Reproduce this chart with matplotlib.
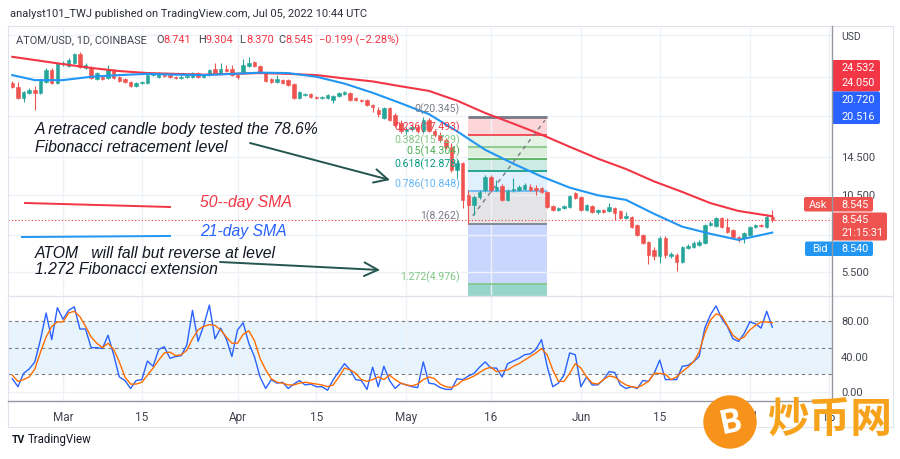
import matplotlib

matplotlib.use("Agg")
import matplotlib.pyplot as plt
import matplotlib.dates as mdates
from matplotlib.patches import Circle, FancyBboxPatch, Rectangle
from matplotlib.ticker import NullFormatter, NullLocator
import numpy as np
import pandas as pd

plt.rcParams["font.family"] = ["Roboto", "DejaVu Sans"]

# ---- data (ATOM/USD daily, 2022-02-20 .. 2022-07-05) ----
start_date = "2022-02-20"

opens = [
    27.05, 26.15, 23.84, 24.86, 25.50, 24.86, 27.28, 30.17, 27.05, 31.73,
    31.21, 32.00, 34.52, 30.69, 30.94, 27.98, 28.45, 28.21, 30.17, 28.45,
    27.98, 27.28, 26.37, 27.05, 27.05, 28.93, 28.45, 28.93, 28.93, 28.45,
    28.21, 28.45, 28.45, 29.42, 28.45, 28.93, 30.43, 29.42, 30.43, 30.43,
    28.93, 29.42, 31.21, 32.27, 31.21, 29.42, 27.98, 27.28, 27.74, 27.74,
    26.82, 23.84, 24.45, 24.66, 24.04, 23.84, 23.84, 23.44, 24.25, 24.66,
    24.86, 23.84, 23.44, 23.44, 22.47, 21.54, 20.13, 21.91, 20.65, 19.31,
    18.05, 18.35, 18.66, 18.05, 19.80, 18.05, 17.45, 16.73, 15.77, 12.99,
    13.78, 10.52, 9.67, 10.35, 10.98, 12.24, 10.98, 11.35, 10.09, 10.98,
    10.98, 11.07, 11.26, 11.17, 11.17, 10.80, 9.59, 9.27, 9.43, 9.51,
    10.71, 10.35, 9.27, 9.59, 9.12, 9.27, 9.19, 9.43, 9.19, 8.67,
    8.74, 8.17, 7.51, 7.08, 6.62, 6.30, 7.33, 6.30, 6.35, 5.98,
    6.73, 6.79, 6.90, 7.02, 8.17, 8.10, 8.67, 8.03, 7.84, 7.39,
    7.33, 7.51, 8.03, 8.17, 8.03, 8.741,
]
highs = [
    27.51, 27.28, 25.29, 25.93, 26.37, 27.98, 30.69, 30.69, 32.27, 32.55,
    33.38, 34.81, 35.10, 32.00, 31.21, 29.67, 28.69, 31.47, 30.43, 28.69,
    28.21, 27.51, 27.28, 27.51, 29.18, 29.42, 29.67, 29.42, 29.18, 28.69,
    28.93, 28.93, 29.67, 29.67, 29.18, 30.43, 32.00, 32.00, 31.47, 31.47,
    29.18, 33.10, 33.67, 32.55, 31.47, 29.67, 28.21, 28.93, 27.98, 27.98,
    27.05, 25.29, 24.86, 24.86, 24.25, 24.25, 24.66, 24.45, 25.07, 25.29,
    25.07, 24.04, 23.64, 23.64, 22.66, 22.09, 22.09, 22.09, 21.00, 19.80,
    18.66, 18.98, 19.14, 20.30, 20.13, 18.35, 17.89, 17.02, 16.31, 14.13,
    13.89, 10.98, 10.52, 10.98, 12.45, 12.45, 11.94, 11.55, 11.07, 12.14,
    11.45, 11.64, 11.55, 11.45, 11.26, 10.89, 9.67, 9.51, 9.67, 10.52,
    10.80, 10.43, 9.75, 9.67, 9.35, 9.35, 9.84, 9.51, 9.27, 9.12,
    8.82, 8.24, 7.58, 7.14, 6.79, 7.45, 7.45, 6.51, 6.45, 6.84,
    6.96, 7.14, 7.20, 8.24, 8.45, 8.74, 8.74, 8.67, 7.90, 7.45,
    7.71, 8.10, 8.24, 8.24, 8.89, 9.304,
]
lows = [
    25.93, 23.64, 23.05, 24.66, 21.54, 24.66, 27.05, 26.82, 26.82, 31.21,
    30.94, 31.73, 30.69, 30.43, 27.98, 27.74, 27.74, 27.98, 27.98, 27.28,
    27.05, 26.15, 26.15, 26.82, 26.82, 28.69, 28.21, 28.45, 28.21, 27.98,
    27.98, 28.21, 28.21, 28.21, 28.21, 28.69, 29.18, 29.18, 29.67, 28.69,
    27.98, 29.18, 30.94, 30.94, 29.18, 27.28, 27.05, 27.05, 26.82, 26.37,
    23.64, 23.64, 24.25, 23.84, 23.64, 23.64, 23.64, 22.86, 24.04, 24.45,
    23.24, 23.24, 23.05, 22.28, 21.18, 20.30, 19.97, 19.63, 18.66, 17.74,
    17.60, 18.05, 17.74, 17.74, 17.89, 17.16, 16.45, 15.51, 12.77, 12.14,
    9.43, 8.262, 8.89, 10.17, 10.80, 10.80, 10.89, 10.01, 10.01, 10.80,
    10.89, 10.98, 10.89, 10.52, 10.71, 9.43, 9.19, 9.19, 9.35, 9.43,
    10.17, 9.19, 9.19, 9.04, 8.96, 9.04, 9.12, 8.52, 8.59, 8.59,
    7.97, 7.45, 6.96, 5.88, 6.08, 5.93, 6.19, 6.19, 5.54, 5.93,
    6.67, 6.73, 6.84, 6.96, 8.10, 8.03, 7.97, 7.64, 7.33, 7.08,
    7.02, 7.45, 7.97, 8.03, 7.97, 8.370,
]
closes = [
    26.15, 23.84, 25.07, 25.50, 24.86, 27.74, 30.17, 27.05, 32.00, 32.00,
    32.82, 34.52, 30.94, 31.47, 28.21, 29.42, 27.98, 30.17, 28.21, 27.51,
    27.28, 26.37, 27.05, 27.28, 28.93, 29.18, 29.18, 28.69, 28.45, 28.21,
    28.45, 28.69, 29.42, 28.45, 28.93, 30.17, 29.42, 30.43, 29.92, 28.93,
    28.45, 31.47, 32.00, 31.21, 29.42, 27.51, 27.28, 27.98, 27.05, 26.59,
    23.84, 25.07, 24.66, 24.04, 23.84, 24.04, 24.45, 24.25, 24.86, 25.07,
    23.44, 23.44, 23.24, 22.47, 22.09, 20.83, 21.91, 19.80, 18.98, 18.05,
    18.35, 18.66, 18.05, 19.80, 18.05, 17.45, 16.73, 15.77, 12.99, 13.78,
    10.09, 9.67, 10.35, 10.80, 12.24, 10.98, 11.26, 10.09, 10.89, 11.07,
    11.26, 11.45, 10.98, 10.98, 10.80, 9.51, 9.27, 9.43, 9.59, 10.43,
    10.26, 9.27, 9.67, 9.12, 9.27, 9.12, 9.51, 9.04, 8.67, 8.82,
    8.03, 7.51, 7.02, 6.35, 6.30, 7.33, 6.35, 6.40, 5.98, 6.79,
    6.84, 7.02, 7.08, 8.17, 8.31, 8.67, 8.03, 7.71, 7.39, 7.33,
    7.64, 8.03, 8.17, 8.10, 8.74, 8.545,
]
day_change = -0.199
day_change_pct = -2.28

sma_dates = [
    "2022-02-20", "2022-02-24", "2022-03-01", "2022-03-06", "2022-03-11", "2022-03-16",
    "2022-03-21", "2022-03-26", "2022-03-31", "2022-04-05", "2022-04-10", "2022-04-15",
    "2022-04-20", "2022-04-25", "2022-04-30", "2022-05-05", "2022-05-10", "2022-05-15",
    "2022-05-20", "2022-05-25", "2022-05-30", "2022-06-04", "2022-06-09", "2022-06-14",
    "2022-06-19", "2022-06-24", "2022-06-29", "2022-07-05",
]
sma50 = [33.7, 32.8, 31.7, 30.7, 29.9, 29.4, 29.2, 29.0, 29.2, 29.4, 29.2, 28.9, 28.1, 27.4,
         26.3, 25.3, 23.3, 21.0, 19.2, 17.5, 15.8, 14.3, 13.1, 11.8, 10.8, 9.83, 9.2, 8.8]
sma21 = [28.9, 27.7, 27.7, 28.5, 28.9, 29.2, 29.0, 28.9, 29.2, 29.5, 29.4, 28.5, 26.9, 24.9,
         22.8, 20.8, 18.0, 15.4, 13.7, 12.3, 11.2, 10.5, 10.1, 8.98, 8.06, 7.59, 7.21, 7.67]

stoch_k = [
    15, 6, 21, 26, 34, 59, 89, 59, 95, 82,
    92, 96, 71, 71, 50, 50, 49, 64, 42, 17,
    13, 4, 13, 14, 35, 29, 48, 51, 38, 40,
    41, 53, 92, 57, 75, 98, 60, 72, 60, 40,
    70, 78, 55, 40, 17, 4, 14, 10, 11, 4,
    9, 13, 8, 9, 6, 6, 2, 14, 23, 32,
    25, 14, 13, 3, 28, 6, 29, 13, 4, 10,
    8, 6, 5, 34, 10, 9, 5, 3, 3, 15,
    14, 18, 21, 28, 34, 27, 27, 17, 32, 35,
    38, 42, 43, 48, 59, 29, 6, 10, 19, 44,
    42, 6, 17, 8, 8, 14, 23, 22, 8, 4,
    6, 4, 13, 12, 21, 36, 14, 14, 14, 29,
    30, 34, 40, 72, 87, 97, 83, 74, 60, 57,
    66, 79, 77, 72, 91, 73,
]
stoch_d = [
    19, 12, 14, 17, 26, 45, 62, 74, 79, 79,
    89, 91, 85, 74, 62, 55, 50, 55, 48, 34,
    17, 9, 9, 11, 19, 27, 36, 44, 45, 41,
    42, 47, 60, 70, 74, 76, 75, 70, 62, 55,
    55, 65, 69, 58, 38, 25, 15, 11, 10, 8,
    8, 10, 11, 10, 9, 8, 6, 8, 17, 27,
    25, 21, 14, 12, 14, 17, 14, 19, 14, 10,
    8, 7, 9, 14, 17, 15, 9, 6, 5, 8,
    13, 15, 18, 22, 26, 28, 23, 24, 25, 29,
    32, 36, 40, 44, 49, 42, 25, 12, 12, 21,
    32, 27, 17, 10, 9, 14, 18, 17, 12, 8,
    6, 5, 8, 12, 21, 21, 20, 14, 17, 23,
    28, 34, 45, 66, 81, 88, 86, 75, 64, 59,
    62, 70, 75, 79, 79, 78,
]

fib_start = "2022-05-12"
fib_end = "2022-05-26"
fib_levels = [0, 0.236, 0.382, 0.5, 0.618, 0.786, 1, 1.272]
fib_prices = [20.345, 17.493, 15.729, 14.304, 12.878, 10.848, 8.262, 4.976]
fib_colors = ["#787b86", "#f23645", "#81c784", "#4caf50", "#089981", "#64b5f6", "#787b86", "#81c784"]

last_price = 8.545
bid_price = 8.540
countdown = "21:15:31"
axis_tags_red = ["24.532", "24.050"]
axis_tags_blue = ["20.720", "20.516"]

price_ticks = [40.5, 28.5, 20.5, 14.5, 10.5, 7.5, 5.5]
price_tick_labels = ["", "", "", "14.500", "10.500", "", "5.500"]
stoch_ticks = [0, 40, 80]
stoch_tick_labels = ["0.00", "40.00", "80.00"]
time_ticks = ["2022-03-01", "2022-03-15", "2022-04-01", "2022-04-15", "2022-05-01",
              "2022-05-16", "2022-06-01", "2022-06-15", "2022-07-01", "2022-07-15"]
time_labels = ["Mar", "15", "Apr", "15", "May", "16", "Jun", "15", "Jul", "15"]

# ---- styling ----
UP = "#26a69a"
DOWN = "#ef5350"
TEXT = "#131722"
AXIS_TEXT = "#434651"
GRID = "#eef1f6"
FRAME = "#e0e3eb"
AXIS_LINE = "#9598a1"
W, H = 900, 459


def fig_rect(x0, y0, x1, y1):
    return [x0 / W, 1 - y1 / H, (x1 - x0) / W, (y1 - y0) / H]


fig = plt.figure(figsize=(W / 100, H / 100), dpi=100)
fig.patch.set_facecolor("white")
ax = fig.add_axes(fig_rect(8, 28, 832, 295))
osc = fig.add_axes(fig_rect(8, 296, 832, 401))
ov = fig.add_axes([0, 0, 1, 1], zorder=10)
ov.set_xlim(0, W)
ov.set_ylim(H, 0)
ov.axis("off")

days = pd.date_range(start_date, periods=len(closes), freq="D")
xs = mdates.date2num(days)
o = np.array(opens)
h = np.array(highs)
l = np.array(lows)
c = np.array(closes)
colors = np.where(c >= o, UP, DOWN)

mar1 = mdates.date2num(pd.Timestamp("2022-03-01"))
xlim = (mar1 - 9.77, mar1 + 136.6)
tick_x = mdates.date2num(pd.to_datetime(time_ticks))

# ---- main price pane ----
ax.set_yscale("log")
fx0 = mdates.date2num(pd.Timestamp(fib_start))
fx1 = mdates.date2num(pd.Timestamp(fib_end))
fill_alpha = [0.2, 0.2, 0.2, 0.2, 0.2, 0.2, 0.25]
zone_colors = ["#f23645", "#81c784", "#4caf50", "#089981", "#64b5f6", "#787b86", "#2962ff"]
for i in range(len(fib_prices) - 1):
    ax.fill_between([fx0, fx1], fib_prices[i], fib_prices[i + 1], color=zone_colors[i],
                    alpha=fill_alpha[i], linewidth=0, zorder=1)
ax.fill_between([fx0, fx1], 1.0, fib_prices[-1], color="#089981", alpha=0.42, linewidth=0, zorder=1)
for lvl, price, col in zip(fib_levels, fib_prices, fib_colors):
    ax.hlines(price, fx0, fx1, color=col, lw=2.0 if lvl == 0 else 1.2, zorder=2)
    ax.annotate(f"{lvl:g}({price:.3f})", xy=(fx0, price), xytext=(-6, 1),
                textcoords="offset points", ha="right", va="bottom",
                fontsize=7.6, color=col, zorder=6)
ax.plot([fx0 + 0.8, fx1 - 0.4], [fib_prices[6] * 1.07, fib_prices[0] * 0.97],
        color="#787b86", lw=1, ls=(0, (3, 3)), zorder=2)

ax.vlines(xs, l, h, colors=colors, lw=0.8, zorder=3)
ax.bar(xs, np.abs(c - o), bottom=np.minimum(o, c), width=0.62, color=colors,
       edgecolor=colors, linewidth=0.4, zorder=3)

sma_x = mdates.date2num(pd.to_datetime(sma_dates))
ax.plot(sma_x, sma50, color="#f23645", lw=1.5, zorder=4)
ax.plot(sma_x, sma21, color="#2196f3", lw=1.5, zorder=4)
ax.axhline(last_price, color="#f23645", lw=0.8, ls=(0, (1, 2)), zorder=2)

ax.set_xlim(*xlim)
ax.set_ylim(4.533, 42.97)
ax.set_xticks(tick_x)
ax.yaxis.set_minor_locator(NullLocator())
ax.yaxis.set_minor_formatter(NullFormatter())
ax.set_yticks(price_ticks)
ax.set_yticklabels(price_tick_labels)
ax.yaxis.tick_right()
ax.tick_params(axis="y", length=0, pad=6.5, labelsize=8, labelcolor=AXIS_TEXT)
ax.tick_params(axis="x", length=0, labelbottom=False)
ax.grid(True, color=GRID, lw=1, zorder=0)
for s in ax.spines.values():
    s.set_visible(False)

# analyst drawings
note_font = dict(family=["Liberation Sans", "DejaVu Sans"], style="italic", fontsize=11.3)
ax.text(0.033, 0.618, "A retraced candle body tested the 78.6%", transform=ax.transAxes,
        color=TEXT, va="center", zorder=7, **note_font)
ax.text(0.033, 0.554, "Fibonacci retracement level", transform=ax.transAxes,
        color=TEXT, va="center", zorder=7, **note_font)
ax.text(0.033, 0.157, "ATOM   will fall but reverse at level", transform=ax.transAxes,
        color=TEXT, va="center", zorder=7, **note_font)
ax.text(0.033, 0.094, "1.272 Fibonacci extension", transform=ax.transAxes,
        color=TEXT, va="center", zorder=7, **note_font)
ax.text(0.233, 0.3446, "50--day SMA", transform=ax.transAxes, color="#f23645",
        va="center", zorder=7, **note_font)
ax.text(0.233, 0.236, "21-day SMA", transform=ax.transAxes, color="#2962ff",
        va="center", zorder=7, **note_font)
ax.plot([0.0206, 0.1966], [0.3446, 0.3296], transform=ax.transAxes, color="#f23645", lw=1.4, zorder=7)
ax.plot([0.017, 0.1966], [0.2172, 0.221], transform=ax.transAxes, color="#2196f3", lw=1.4, zorder=7)
arrow = dict(arrowstyle="->,head_length=0.7,head_width=0.35", color="#24564f", lw=1.4,
             mutation_scale=14, shrinkA=0, shrinkB=0)
ax.annotate("", xy=(0.4636, 0.4307), xytext=(0.2937, 0.5693), xycoords="axes fraction",
            arrowprops=arrow, zorder=7)
ax.annotate("", xy=(0.4515, 0.0936), xytext=(0.2573, 0.1236), xycoords="axes fraction",
            arrowprops=arrow, zorder=7)

# ---- stochastic RSI pane ----
osc.axhspan(20, 80, color="#2196f3", alpha=0.1, lw=0, zorder=1)
for lvl in (80, 50, 20):
    osc.axhline(lvl, color="#787b86", lw=0.8, ls=(0, (3, 3)), zorder=2)
osc.plot(xs, stoch_k, color="#2962ff", lw=1.0, zorder=3)
osc.plot(xs, stoch_d, color="#ff6d00", lw=1.0, zorder=3)
osc.set_xlim(*xlim)
osc.set_ylim(-10.1, 108.2)
osc.set_yticks(stoch_ticks)
osc.set_yticklabels(stoch_tick_labels)
osc.yaxis.tick_right()
osc.tick_params(axis="y", length=0, pad=6.5, labelsize=8, labelcolor=AXIS_TEXT)
osc.set_xticks(tick_x)
osc.set_xticklabels(time_labels)
osc.tick_params(axis="x", length=0, pad=7, labelsize=8.5, labelcolor=AXIS_TEXT)
osc.grid(True, color=GRID, lw=1, zorder=0)
for s in osc.spines.values():
    s.set_visible(False)

# ---- frame, header, axis tags, watermark (pixel overlay) ----
ov.add_patch(Rectangle((8, 26), 885, 401, fill=False, ec=FRAME, lw=0.8))
ov.plot([8, 893], [296, 296], color=FRAME, lw=1)
ov.plot([832, 832], [26, 401], color=AXIS_LINE, lw=1)
ov.plot([8, 832], [401, 401], color=AXIS_LINE, lw=1)

ov.text(10, 14, "analyst101_TWJ published on TradingView.com, Jul 05, 2022 10:44 UTC",
        fontsize=8.05, color="#2a2e39", va="center")
ov.text(16, 40, "ATOM/USD, 1D, COINBASE", fontsize=7.9, color=AXIS_TEXT, va="center")
ohlc_tags = [("O", opens[-1], 156), ("H", highs[-1], 198), ("L", lows[-1], 239), ("C", closes[-1], 278)]
for tag, val, x in ohlc_tags:
    ov.text(x, 40, tag, fontsize=7.9, color=AXIS_TEXT, va="center")
    ov.text(x + 7, 40, f"{val:.3f}", fontsize=7.9, color="#f23645", va="center")
ov.text(319, 40, f"\u2212{abs(day_change):.3f} (\u2212{abs(day_change_pct):.2f}%)",
        fontsize=7.9, color="#f23645", va="center")
ov.text(841, 37, "USD", fontsize=7.5, color=AXIS_TEXT, va="center")


def tag_box(x0, y0, x1, y1, color):
    ov.add_patch(FancyBboxPatch((x0, y0), x1 - x0, y1 - y0, boxstyle="round,pad=0,rounding_size=2",
                                fc=color, ec="none"))


tag_box(832, 60, 880, 91.5, "#f23645")
tag_box(832, 91.5, 880, 124, "#2962ff")
for i, txt in enumerate(axis_tags_red):
    ov.text(841, 68 + i * 15.5, txt, fontsize=7.8, color="white", va="center")
for i, txt in enumerate(axis_tags_blue):
    ov.text(841, 100 + i * 16.5, txt, fontsize=7.8, color="white", va="center")

tag_box(804, 197, 873, 211.5, "#ef5350")
ov.text(809, 204.5, "Ask", fontsize=7.8, color="white", va="center")
ov.text(841, 204.5, f"{last_price:.3f}", fontsize=7.8, color="white", va="center")
tag_box(832, 212.5, 887, 240.5, "#ef5350")
ov.text(841, 220, f"{last_price:.3f}", fontsize=7.8, color="white", va="center")
ov.text(841, 233, countdown, fontsize=7.8, color="white", va="center")
tag_box(805, 241.5, 873, 256, "#2196f3")
ov.text(812, 249, "Bid", fontsize=7.8, color="white", va="center")
ov.text(841, 249, f"{bid_price:.3f}", fontsize=7.8, color="white", va="center")

ov.text(12, 440, "TV", fontsize=7.5, weight="bold", color=TEXT, va="center")
ov.text(28, 440, "TradingView", fontsize=8.3, color=TEXT, va="center")

ov.add_patch(Circle((730, 422), 26, color="#f7931a", zorder=5))
ov.text(731, 423, "B", fontsize=24, weight="bold", color="white", ha="center", va="center",
        rotation=12, zorder=6)
ov.text(830, 420, "炒币网", fontsize=30, weight="bold", color="#f7a21b", ha="center", va="center",
        family=["Noto Sans CJK SC", "DejaVu Sans"], zorder=6)

fig.savefig("out.png", dpi=100, facecolor="white")
